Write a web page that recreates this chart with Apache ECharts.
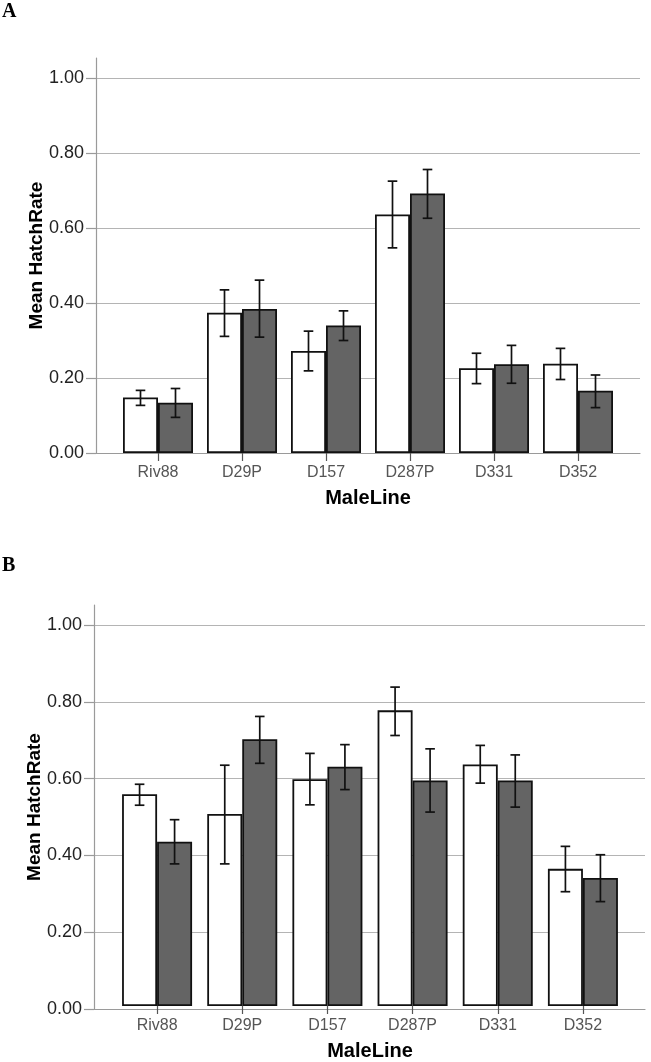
<!DOCTYPE html>
<html>
<head>
<meta charset="utf-8">
<script src="https://cdn.jsdelivr.net/npm/echarts@6/dist/echarts.min.js"></script>
<style>
html,body{margin:0;padding:0;background:#fff;}
#chart{width:651px;height:1062px;}
</style>
</head>
<body>
<div id="chart"></div>
<script>
// ---- data ----
const categories = ['Riv88', 'D29P', 'D157', 'D287P', 'D331', 'D352'];
const yTickValues = [0, 0.2, 0.4, 0.6, 0.8, 1.0];

const A_white     = [0.148, 0.374, 0.272, 0.636, 0.226, 0.238];
const A_whiteLow  = [0.127, 0.311, 0.219, 0.547, 0.185, 0.196];
const A_whiteHigh = [0.167, 0.435, 0.325, 0.725, 0.266, 0.279];
const A_dark      = [0.134, 0.384, 0.340, 0.692, 0.237, 0.166];
const A_darkLow   = [0.095, 0.309, 0.300, 0.626, 0.186, 0.121];
const A_darkHigh  = [0.172, 0.461, 0.379, 0.756, 0.287, 0.208];

const B_white     = [0.556, 0.504, 0.595, 0.776, 0.634, 0.360];
const B_whiteLow  = [0.527, 0.373, 0.528, 0.710, 0.585, 0.300];
const B_whiteHigh = [0.582, 0.632, 0.663, 0.837, 0.684, 0.419];
const B_dark      = [0.431, 0.700, 0.628, 0.592, 0.592, 0.336];
const B_darkLow   = [0.373, 0.637, 0.568, 0.509, 0.522, 0.274];
const B_darkHigh  = [0.489, 0.760, 0.686, 0.675, 0.659, 0.397];

// ---- styling ----
const FONT = '"Liberation Sans", Arial, sans-serif';
const BAR_W = 35;
const GRID_C = '#b4b4b4';
const AXIS_C = '#9a9a9a';
const DARK_FILL = '#646464';

const chart = echarts.init(document.getElementById('chart'), null, {renderer: 'canvas'});

function errRender(offset) {
  return function (params, api) {
    const i = api.value(0);
    const lo = api.coord([i, api.value(1)]);
    const hi = api.coord([i, api.value(2)]);
    const x = lo[0] + offset;
    const cap = 4.8;
    const st = {stroke: '#111', lineWidth: 1.7};
    return {
      type: 'group',
      children: [
        {type: 'line', shape: {x1: x, y1: lo[1], x2: x, y2: hi[1]}, style: st},
        {type: 'line', shape: {x1: x - cap, y1: lo[1], x2: x + cap, y2: lo[1]}, style: st},
        {type: 'line', shape: {x1: x - cap, y1: hi[1], x2: x + cap, y2: hi[1]}, style: st}
      ]
    };
  };
}

function errData(lo, hi) {
  return categories.map((c, i) => [i, lo[i], hi[i]]);
}

const grids = [];
const xAxes = [];
const yAxes = [];
const series = [];

function addPanel(p) {
  const g0 = grids.length;
  // frame grid: y axis line to 1.05 and axis name
  grids.push({left: p.axisX, top: p.frameTop, width: p.right - p.axisX, height: p.zeroY - p.frameTop});
  // label grid: gridlines, y labels, baseline
  grids.push({left: p.axisX, top: p.oneY, width: p.right - p.axisX, height: p.zeroY - p.oneY});
  // bar grid
  grids.push({left: p.barLeft, top: p.oneY, width: p.barRight - p.barLeft, height: p.zeroY - p.oneY});

  // frame axes
  xAxes.push({gridIndex: g0, type: 'value', min: 0, max: 1, show: false});
  yAxes.push({
    gridIndex: g0, type: 'value', min: 0, max: 1.05,
    axisLine: {show: true, lineStyle: {color: AXIS_C, width: 1.2}},
    axisTick: {show: false}, axisLabel: {show: false}, splitLine: {show: false},
    name: 'Mean HatchRate', nameLocation: 'middle', nameGap: 50,
    nameTextStyle: {fontFamily: FONT, fontSize: 19, fontWeight: 'bold', color: '#000'}
  });
  // label axes
  xAxes.push({
    gridIndex: g0 + 1, type: 'value', min: 0, max: 1,
    axisLine: {show: true, lineStyle: {color: AXIS_C, width: 1.2}},
    axisTick: {show: false}, axisLabel: {show: false}, splitLine: {show: false}
  });
  yAxes.push({
    gridIndex: g0 + 1, type: 'value', min: yTickValues[0], max: yTickValues[yTickValues.length - 1], interval: 0.2,
    axisLine: {show: false},
    axisTick: {show: true, length: 10, lineStyle: {color: AXIS_C, width: 1.2}},
    axisLabel: {fontFamily: FONT, fontSize: 18, color: '#222', margin: 12, formatter: v => v.toFixed(2)},
    splitLine: {show: true, lineStyle: {color: GRID_C, width: 1.2}}
  });
  // bar axes
  xAxes.push({
    gridIndex: g0 + 2, type: 'category', data: categories,
    axisLine: {show: false},
    axisTick: {show: true, alignWithLabel: true, length: 8, lineStyle: {color: '#555', width: 1.2}},
    axisLabel: {fontFamily: FONT, fontSize: 16, color: '#555', margin: 12},
    name: 'MaleLine', nameLocation: 'middle', nameGap: 35,
    nameTextStyle: {fontFamily: FONT, fontSize: 20, fontWeight: 'bold', color: '#000'}
  });
  yAxes.push({gridIndex: g0 + 2, type: 'value', min: 0, max: 1, show: false});

  const xi = g0 + 2, yi = g0 + 2;
  series.push({
    type: 'bar', xAxisIndex: xi, yAxisIndex: yi, data: p.white,
    barWidth: BAR_W, barGap: '0%',
    itemStyle: {color: '#ffffff', borderColor: '#111', borderWidth: 1.8}, z: 3
  });
  series.push({
    type: 'bar', xAxisIndex: xi, yAxisIndex: yi, data: p.dark,
    barWidth: BAR_W, barGap: '0%',
    itemStyle: {color: DARK_FILL, borderColor: '#111', borderWidth: 1.8}, z: 3
  });
  series.push({
    type: 'custom', xAxisIndex: xi, yAxisIndex: yi, renderItem: errRender(-BAR_W / 2),
    data: errData(p.whiteLow, p.whiteHigh), encode: {x: 0, y: [1, 2]}, z: 5
  });
  series.push({
    type: 'custom', xAxisIndex: xi, yAxisIndex: yi, renderItem: errRender(BAR_W / 2),
    data: errData(p.darkLow, p.darkHigh), encode: {x: 0, y: [1, 2]}, z: 5
  });
}

addPanel({
  axisX: 96, right: 640, frameTop: 58, oneY: 78, zeroY: 453,
  barLeft: 116, barRight: 620,
  white: A_white, whiteLow: A_whiteLow, whiteHigh: A_whiteHigh,
  dark: A_dark, darkLow: A_darkLow, darkHigh: A_darkHigh
});
addPanel({
  axisX: 94, right: 645, frameTop: 605, oneY: 625, zeroY: 1009,
  barLeft: 114.5, barRight: 625.5,
  white: B_white, whiteLow: B_whiteLow, whiteHigh: B_whiteHigh,
  dark: B_dark, darkLow: B_darkLow, darkHigh: B_darkHigh
});

chart.setOption({
  animation: false,
  backgroundColor: '#fff',
  grid: grids,
  xAxis: xAxes,
  yAxis: yAxes,
  series: series,
  graphic: [
    {type: 'text', left: 2, top: 2, style: {text: 'A', font: 'bold 20px "Liberation Serif", "Times New Roman", serif', fill: '#000'}},
    {type: 'text', left: 2, top: 556, style: {text: 'B', font: 'bold 20px "Liberation Serif", "Times New Roman", serif', fill: '#000'}}
  ]
});
</script>
</body>
</html>
